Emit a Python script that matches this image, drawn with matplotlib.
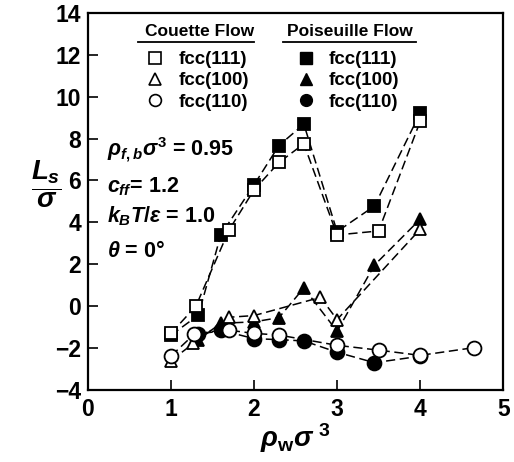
import matplotlib.pyplot as plt
from matplotlib.lines import Line2D

plt.rcParams['font.family'] = 'Liberation Sans'
plt.rcParams['font.weight'] = 'bold'
plt.rcParams['mathtext.fontset'] = 'custom'
plt.rcParams['mathtext.rm'] = 'Liberation Sans:bold'
plt.rcParams['mathtext.it'] = 'Liberation Sans:bold:italic'
plt.rcParams['mathtext.bf'] = 'Liberation Sans:bold'

# slip length L_s/sigma vs wall density, Couette (open) and Poiseuille (filled)
rho_c111 = [1.0, 1.3, 1.7, 2.0, 2.3, 2.6, 3.0, 3.5, 4.0]
ls_c111 = [-1.3, 0.0, 3.64, 5.55, 6.86, 7.75, 3.4, 3.59, 8.82]
rho_p111 = [1.0, 1.33, 1.6, 2.0, 2.3, 2.6, 3.0, 3.45, 4.0]
ls_p111 = [-1.39, -0.43, 3.4, 5.79, 7.67, 8.69, 3.56, 4.78, 9.22]

rho_c100 = [1.0, 1.27, 1.7, 2.0, 2.8, 3.0, 4.0]
ls_c100 = [-2.6, -1.78, -0.53, -0.45, 0.42, -0.64, 3.67]
rho_p100 = [1.33, 1.6, 2.0, 2.3, 2.6, 3.0, 3.45, 4.0]
ls_p100 = [-1.6, -0.82, -0.75, -0.55, 0.87, -1.2, 1.96, 4.15]

rho_c110 = [1.0, 1.28, 1.7, 2.0, 2.3, 3.0, 3.5, 4.0, 4.65]
ls_c110 = [-2.38, -1.34, -1.15, -1.3, -1.38, -1.87, -2.1, -2.35, -1.98]
rho_p110 = [1.33, 1.6, 2.0, 2.3, 2.6, 3.0, 3.45, 4.0]
ls_p110 = [-1.31, -1.15, -1.55, -1.6, -1.66, -2.2, -2.7, -2.39]

dash = (6, 3)
fig = plt.figure(figsize=(5.14, 4.62), dpi=100)
ax = fig.add_axes([0.171, 0.156, 0.808, 0.816])

series = [
    (rho_p111, ls_p111, 's', 'black', 8),
    (rho_p100, ls_p100, '^', 'black', 9),
    (rho_p110, ls_p110, 'o', 'black', 10),
    (rho_c111, ls_c111, 's', 'white', 8),
    (rho_c100, ls_c100, '^', 'white', 9),
    (rho_c110, ls_c110, 'o', 'white', 10),
]
for x, y, m, fc, ms in series:
    ax.plot(x, y, color='black', lw=1.1, dashes=dash, marker=m, ms=ms,
            mfc=fc, mec='black', mew=1.3)

ax.set_xlim(0, 5)
ax.set_ylim(-4, 14)
ax.set_xticks(range(0, 6))
ax.set_yticks(range(-4, 15, 2))
ax.tick_params(direction='in', length=7, width=1.2, labelsize=16.5)
ax.tick_params(axis='x', pad=6)
ax.tick_params(axis='y', pad=5)
for s in ax.spines.values():
    s.set_linewidth(1.6)

ax.set_xlabel(r'$\rho_{\mathrm{w}}\sigma^{\ 3}$', fontsize=20, labelpad=0)
fig.text(0.09, 0.6, r'$\dfrac{L_s}{\sigma}$', fontsize=20, ha='center', va='center')

# legend columns
ax.text(0.27, 0.95, 'Couette Flow', transform=ax.transAxes, fontsize=12.5,
        ha='center', va='center')
ax.text(0.63, 0.95, 'Poiseuille Flow', transform=ax.transAxes, fontsize=12.5,
        ha='center', va='center')
ax.plot([0.12, 0.40], [0.922, 0.922], transform=ax.transAxes, color='black', lw=1.3)
ax.plot([0.47, 0.79], [0.922, 0.922], transform=ax.transAxes, color='black', lw=1.3)

labels = ['fcc(111)', 'fcc(100)', 'fcc(110)']
marks = ['s', '^', 'o']
h_c = [Line2D([], [], ls='none', marker=m, ms=8.5, mfc='white', mec='black', mew=1.2) for m in marks]
h_p = [Line2D([], [], ls='none', marker=m, ms=8.5, mfc='black', mec='black') for m in marks]
leg1 = ax.legend(h_c, labels, loc='upper left', bbox_to_anchor=(0.115, 0.924), frameon=False,
                 fontsize=13.5, handletextpad=0.7, labelspacing=0.22, borderpad=0, handlelength=1.1)
ax.add_artist(leg1)
ax.legend(h_p, labels, loc='upper left', bbox_to_anchor=(0.477, 0.924), frameon=False,
          fontsize=13.5, handletextpad=0.7, labelspacing=0.22, borderpad=0, handlelength=1.1)

# simulation parameters
ax.text(0.045, 0.637, r'$\rho_{f,b}\sigma^3$ = 0.95', transform=ax.transAxes, fontsize=15.5, va='center')
ax.text(0.045, 0.54, r'$c_{ff}$= 1.2', transform=ax.transAxes, fontsize=15.5, va='center')
ax.text(0.045, 0.46, r'$k_BT/\varepsilon$ = 1.0', transform=ax.transAxes, fontsize=15.5, va='center')
ax.text(0.045, 0.366, r'$\theta$ = 0°', transform=ax.transAxes, fontsize=15.5, va='center')

fig.savefig('out.png', dpi=100)
